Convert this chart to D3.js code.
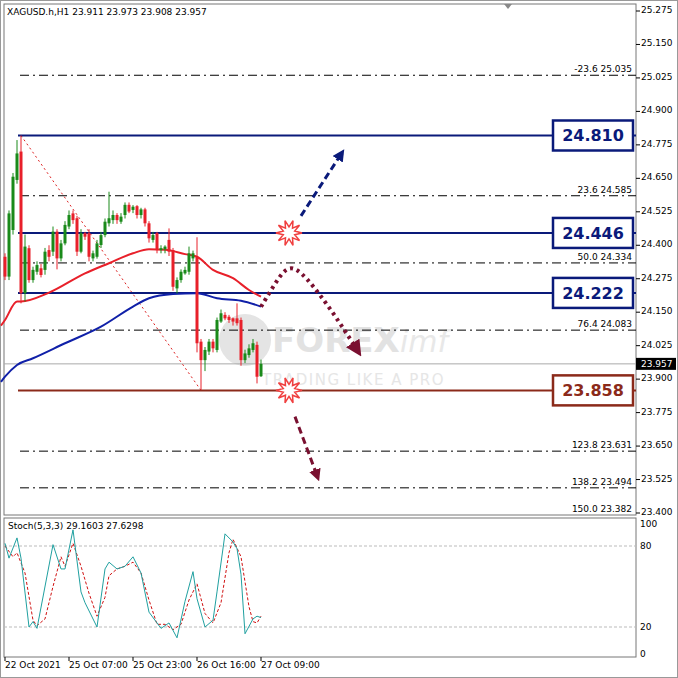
<!DOCTYPE html>
<html><head><meta charset="utf-8">
<script src="https://cdn.jsdelivr.net/npm/d3@7"></script>
<style>body{margin:0;background:#fff}text{font-family:"DejaVu Sans",sans-serif}</style>
</head><body>
<svg id="c" width="678" height="678"></svg>
<script>
// OHLC, hourly XAGUSD
const candles = [
  [24.357,24.37,24.27,24.283],[24.283,24.53,24.27,24.519],[24.457,24.67,24.44,24.656],[24.644,24.793,24.63,24.743],
  [24.750,24.810,24.183,24.221],[24.221,24.44,24.19,24.395],[24.389,24.40,24.26,24.270],[24.270,24.32,24.26,24.308],
  [24.301,24.34,24.29,24.326],[24.314,24.33,24.28,24.289],[24.308,24.39,24.29,24.376],[24.382,24.40,24.34,24.357],
  [24.376,24.47,24.36,24.451],[24.451,24.46,24.31,24.351],[24.351,24.42,24.34,24.407],[24.407,24.49,24.40,24.476],
  [24.470,24.53,24.46,24.513],[24.519,24.53,24.48,24.494],[24.501,24.51,24.36,24.376],[24.376,24.46,24.37,24.445],
  [24.445,24.45,24.42,24.432],[24.445,24.46,24.34,24.357],[24.351,24.38,24.34,24.370],[24.357,24.42,24.35,24.407],
  [24.401,24.45,24.39,24.438],[24.438,24.50,24.43,24.488],[24.482,24.600,24.47,24.501],[24.494,24.53,24.48,24.513],
  [24.513,24.52,24.48,24.494],[24.488,24.52,24.48,24.507],[24.513,24.56,24.50,24.551],[24.551,24.56,24.52,24.526],
  [24.532,24.55,24.52,24.544],[24.546,24.55,24.50,24.513],[24.513,24.54,24.50,24.534],[24.534,24.54,24.47,24.482],
  [24.482,24.49,24.41,24.426],[24.420,24.45,24.41,24.438],[24.445,24.45,24.37,24.382],[24.382,24.40,24.37,24.389],
  [24.385,24.40,24.37,24.395],[24.420,24.463,24.36,24.376],[24.382,24.39,24.23,24.245],[24.239,24.28,24.22,24.270],
  [24.270,24.31,24.26,24.301],[24.295,24.32,24.29,24.308],[24.301,24.395,24.29,24.370],[24.351,24.38,24.34,24.370],
  [24.357,24.43,24.00,24.034],[24.040,24.05,23.859,23.971],[23.971,24.02,23.93,24.009],[24.003,24.05,23.99,24.040],
  [24.040,24.05,24.00,24.015],[24.009,24.13,24.00,24.121],[24.115,24.16,24.11,24.146],[24.140,24.15,24.12,24.127],
  [24.133,24.14,24.11,24.121],[24.127,24.13,24.10,24.115],[24.127,24.183,24.10,24.109],[24.121,24.13,23.95,23.971],
  [23.971,24.01,23.96,23.996],[23.990,24.03,23.98,24.015],[24.009,24.05,24.00,24.034],[24.028,24.04,23.884,23.909],
  [23.911,23.973,23.908,23.957]
];
const maRed = [[-1,24.10],[0,24.121],[3,24.19],[4,24.19],[11,24.223],[20,24.295],[26,24.333],[32,24.370],[36,24.385],[40,24.383],[45,24.367],[48,24.357],[52,24.308],[57,24.277],[61,24.233],[64,24.208]];
const maBlue = [[-1,23.89],[0,23.909],[3,23.953],[7,23.978],[15,24.034],[24,24.096],[32,24.171],[36,24.202],[42,24.218],[48,24.221],[53,24.202],[59,24.193],[64,24.171]];
const priceTicks = d3.range(0,16).map(i => +(23.400 + i*0.125).toFixed(3));
const fibLevels = [["-23.6",25.035],["23.6",24.585],["50.0",24.334],["76.4",24.083],["123.8",23.631],["138.2",23.494],["150.0",23.382]];
const keyLevels = [{v:24.810,c:"#0a1a7a"},{v:24.446,c:"#0a1a7a"},{v:24.222,c:"#0a1a7a"},{v:23.858,c:"#8b2a1a"}];
const lastPrice = 23.957;
const dateLabels = [[0,"22 Oct 2021"],[16,"25 Oct 07:00"],[32,"25 Oct 23:00"],[48,"26 Oct 16:00"],[64,"27 Oct 09:00"]];
const stochK = [[0,82],[1,71],[3,86],[4,71],[6,20],[7,24],[8,19],[12,81],[14,63],[15,63],[17,92],[19,46],[20,38],[23,20],[25,63],[26,68],[28,63],[30,65],[32,72],[34,60],[36,31],[39,19],[41,23],[43,12],[45,39],[47,61],[48,41],[50,20],[52,25],[53,46],[55,89],[57,83],[58,78],[59,59],[60,15],[62,26],[63,28],[64,27]];
const stochD = [[0,80],[2,72],[3,75],[5,60],[7,25],[8,21],[10,26],[12,50],[14,72],[15,65],[17,82],[19,65],[21,45],[23,28],[25,42],[26,58],[28,63],[30,65],[32,68],[34,60],[36,40],[38,22],[40,22],[42,18],[44,22],[46,40],[48,52],[50,30],[52,23],[54,38],[56,75],[57,85],[59,72],[61,35],[62,24],[63,23],[64,28]];

const svg = d3.select("#c");
const L = 4, R = 636;
const x = d3.scaleLinear().domain([0,64]).range([5,261]);
const y = d3.scaleLinear().domain([23.400,25.275]).range([513,11]);
const ys = d3.scaleLinear().domain([0,100]).range([654,519]);

svg.append("rect").attr("x",0.5).attr("y",0.5).attr("width",677).attr("height",677).attr("fill","none").attr("stroke","#999");
const main = svg.append("g");
main.append("rect").attr("x",L).attr("y",4).attr("width",R-L).attr("height",511).attr("fill","#fff").attr("stroke","#777");

// watermark
main.append("circle").attr("cx",245).attr("cy",340).attr("r",26).attr("fill","#e4e4e4");
main.append("text").attr("x",272).attr("y",352).attr("font-size",34).attr("font-weight","bold").attr("fill","#e2e2e2").text("FOREX");
main.append("text").attr("x",400).attr("y",352).attr("font-size",30).attr("font-style","italic").attr("fill","#e8e8e8").text("imf");
main.append("text").attr("x",262).attr("y",385).attr("font-size",15).attr("fill","#e6e6e6").attr("letter-spacing",1.5).text("TRADING LIKE A PRO");

// fib lines
fibLevels.forEach(([n,v]) => {
  if (v >= 23.400) main.append("line").attr("x1",20).attr("x2",R).attr("y1",y(v)).attr("y2",y(v))
    .attr("stroke","#000").attr("stroke-dasharray","9,4,2,4");
  main.append("text").attr("x",632).attr("y",Math.min(y(v)-3,512)).attr("text-anchor","end").attr("font-size",9)
    .text(n + "    " + v.toFixed(3));
});

// current price line
main.append("line").attr("x1",L).attr("x2",R).attr("y1",y(lastPrice)).attr("y2",y(lastPrice)).attr("stroke","#aaa");

// diagonal fib trend
main.append("line").attr("x1",x(4)).attr("y1",y(24.810)).attr("x2",x(49)).attr("y2",y(23.858))
  .attr("stroke","#d22").attr("stroke-dasharray","2,3");

// key levels
keyLevels.forEach(k => {
  main.append("line").attr("x1",18).attr("x2",R).attr("y1",y(k.v)).attr("y2",y(k.v)).attr("stroke",k.c).attr("stroke-width",2);
});

// MAs
const mline = d3.line().x(d => x(d[0])).y(d => y(d[1])).curve(d3.curveMonotoneX);
main.append("path").datum(maRed).attr("d",mline).attr("fill","none").attr("stroke","#e8202a").attr("stroke-width",2);
main.append("path").datum(maBlue).attr("d",mline).attr("fill","none").attr("stroke","#1020a8").attr("stroke-width",2);

// candles
const cg = main.append("g");
candles.forEach((c,i) => {
  const up = c[3] >= c[0], col = up ? "#1a8a1a" : "#e8202a";
  cg.append("line").attr("x1",x(i)).attr("x2",x(i)).attr("y1",y(c[1])).attr("y2",y(c[2])).attr("stroke",col);
  cg.append("rect").attr("x",x(i)-1.5).attr("width",3)
    .attr("y",y(Math.max(c[0],c[3]))).attr("height",Math.max(1,Math.abs(y(c[0])-y(c[3])))).attr("fill",col);
});

// annotations
const defs = svg.append("defs");
[["aNavy","#0a1a7a"],["aMar","#7a1030"]].forEach(([id,c]) => {
  defs.append("marker").attr("id",id).attr("viewBox","0 0 10 10").attr("refX",5).attr("refY",5)
    .attr("markerWidth",4).attr("markerHeight",4).attr("orient","auto")
    .append("path").attr("d","M0,0L10,5L0,10z").attr("fill",c);
});
main.append("line").attr("x1",x(74)).attr("y1",y(24.51)).attr("x2",x(84)).attr("y2",y(24.74))
  .attr("stroke","#0a1a7a").attr("stroke-width",3).attr("stroke-dasharray","7,4").attr("marker-end","url(#aNavy)");
const curve = [[64,24.17],[68,24.27],[71,24.33],[75,24.29],[82,24.15],[88,24.01]];
main.append("path").datum(curve).attr("d",d3.line().x(d=>x(d[0])).y(d=>y(d[1])).curve(d3.curveBasis))
  .attr("fill","none").attr("stroke","#7a1030").attr("stroke-width",4).attr("stroke-dasharray","3,4").attr("marker-end","url(#aMar)");
main.append("line").attr("x1",x(72.5)).attr("y1",y(23.76)).attr("x2",x(78)).attr("y2",y(23.54))
  .attr("stroke","#7a1030").attr("stroke-width",3).attr("stroke-dasharray","7,4").attr("marker-end","url(#aMar)");
const star = d3.range(20).map(k => { const a = k*Math.PI/10, r = k%2 ? 6 : 13; return [r*Math.cos(a), r*Math.sin(a)]; });
[[71,24.446],[71,23.858]].forEach(p => {
  main.append("path").attr("transform",`translate(${x(p[0])},${y(p[1])})`).attr("d","M"+star.join("L")+"Z")
    .attr("fill","#fff").attr("stroke","#f04040").attr("stroke-width",1.5);
});

// level boxes
keyLevels.forEach(k => {
  main.append("rect").attr("x",553).attr("y",y(k.v)-15).attr("width",80).attr("height",30).attr("fill","#fff").attr("stroke",k.c).attr("stroke-width",2.5);
  main.append("text").attr("x",593).attr("y",y(k.v)+6).attr("text-anchor","middle").attr("font-size",16).attr("font-weight","bold").attr("fill",k.c).text(k.v.toFixed(3));
});

// price axis
const ax = svg.append("g").attr("font-size",9);
priceTicks.forEach(t => {
  ax.append("line").attr("x1",R).attr("x2",R+4).attr("y1",y(t)).attr("y2",y(t)).attr("stroke","#000");
  ax.append("text").attr("x",R+5).attr("y",y(t)+2).text(t.toFixed(3));
});
ax.append("rect").attr("x",R).attr("y",y(lastPrice)-6).attr("width",40).attr("height",12).attr("fill","#000");
ax.append("text").attr("x",R+5).attr("y",y(lastPrice)+3).attr("fill","#fff").text(lastPrice.toFixed(3));
svg.append("text").attr("x",7).attr("y",15).attr("font-size",9).text("XAGUSD.h,H1  23.911 23.973 23.908 23.957");
svg.append("path").attr("d","M504,4L512,4L508,9Z").attr("fill","#888");

// stochastic
const sg = svg.append("g");
sg.append("rect").attr("x",L).attr("y",518).attr("width",R-L).attr("height",139).attr("fill","#fff").attr("stroke","#777");
[20,80].forEach(v => sg.append("line").attr("x1",L).attr("x2",R).attr("y1",ys(v)).attr("y2",ys(v)).attr("stroke","#bbb").attr("stroke-dasharray","3,2"));
[100,80,20,0].forEach(v => {
  sg.append("text").attr("x",R+4).attr("y",ys(v)+(v === 100 ? 8 : 3)).attr("font-size",9).text(v);
});
const sline = d3.line().x(d => x(d[0])).y(d => ys(d[1]));
sg.append("path").datum(stochD).attr("d",sline).attr("fill","none").attr("stroke","#d01010").attr("stroke-dasharray","3,2");
sg.append("path").datum(stochK).attr("d",sline).attr("fill","none").attr("stroke","#20a0a0");
sg.append("text").attr("x",8).attr("y",529).attr("font-size",9).text("Stoch(5,3,3) 29.1603 27.6298");

// dates
dateLabels.forEach(([i,t]) => {
  svg.append("line").attr("x1",x(i)).attr("x2",x(i)).attr("y1",657).attr("y2",661).attr("stroke","#000");
  svg.append("text").attr("x",x(i)).attr("y",668).attr("font-size",9).text(t);
});
</script>
</body></html>
